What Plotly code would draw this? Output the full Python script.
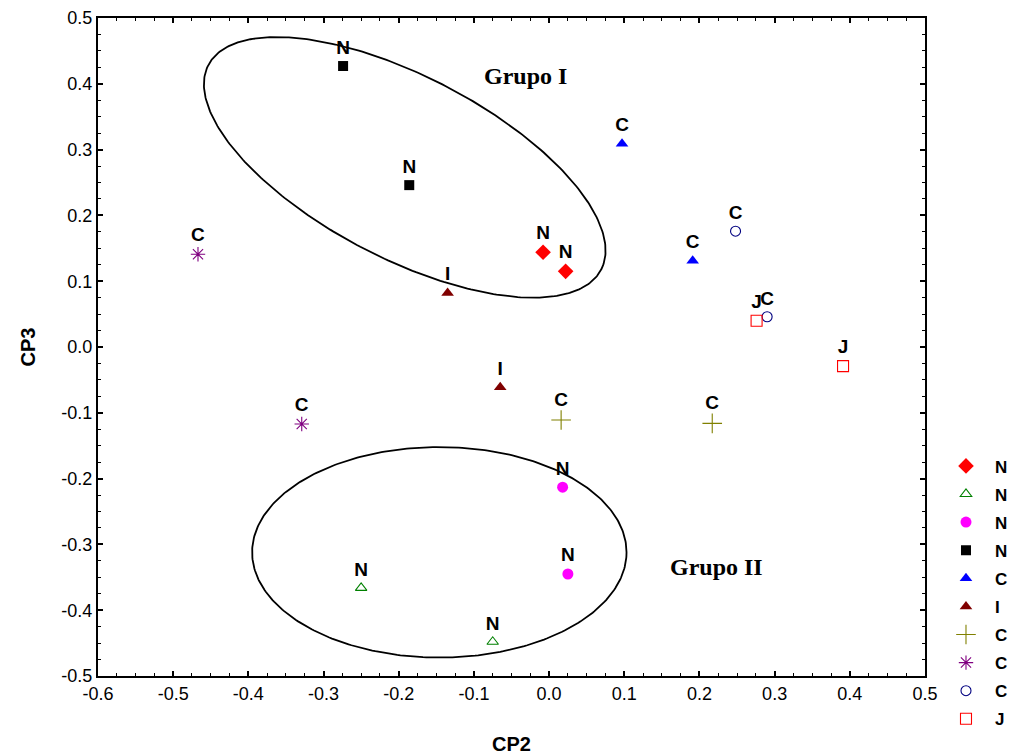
import numpy as np
import plotly.graph_objects as go

# Principal component scores (CP2, CP3) for each sample group
labels = ["N", "N", "N", "N", "C", "I", "C", "C", "C", "J"]
cp2 = [
    [-0.008, 0.022],
    [-0.250, -0.075],
    [0.018, 0.025],
    [-0.274, -0.186],
    [0.097, 0.191],
    [-0.135, -0.065],
    [0.016, 0.217],
    [-0.467, -0.329],
    [0.248, 0.290],
    [0.276, 0.391],
]
cp3 = [
    [0.144, 0.115],
    [-0.366, -0.448],
    [-0.213, -0.345],
    [0.427, 0.246],
    [0.309, 0.131],
    [0.082, -0.061],
    [-0.111, -0.116],
    [0.141, -0.117],
    [0.176, 0.046],
    [0.040, -0.029],
]

# Marker styling per group
symbols = ["diamond", "triangle-up-open", "circle", "square", "triangle-up",
           "triangle-up", "cross-thin-open", "asterisk-open", "circle-open", "square-open"]
colors = ["#FF0000", "#008000", "#FF00FF", "#000000", "#0000FF",
          "#800000", "#808000", "#800080", "#000080", "#FF0000"]
sizes = [12, 10, 11, 10, 11, 11, 14, 12, 10, 11]

# Axis ticks
x_ticks = [-0.6, -0.5, -0.4, -0.3, -0.2, -0.1, 0.0, 0.1, 0.2, 0.3, 0.4, 0.5]
x_ticktext = ["-0.6", "-0.5", "-0.4", "-0.3", "-0.2", "-0.1", "0.0", "0.1", "0.2", "0.3", "0.4", "0.5"]
y_ticks = [-0.5, -0.4, -0.3, -0.2, -0.1, 0.0, 0.1, 0.2, 0.3, 0.4, 0.5]
y_ticktext = ["-0.5", "-0.4", "-0.3", "-0.2", "-0.1", "0.0", "0.1", "0.2", "0.3", "0.4", "0.5"]

# Group ellipses: centre and two conjugate semi-axis vectors (data units)
grupo1 = dict(center=(-0.192, 0.273), u=(0.2615, -0.1549), v=(-0.0546, -0.1234))
grupo2 = dict(center=(-0.146, -0.312), u=(0.249, 0.0), v=(0.0, 0.160))

fig = go.Figure()

for name, xs, ys, sym, col, sz in zip(labels, cp2, cp3, symbols, colors, sizes):
    open_sym = sym.endswith("-open")
    fig.add_trace(go.Scatter(
        x=xs, y=ys, mode="markers+text", name=name,
        text=[name] * len(xs), textposition="top center",
        textfont=dict(family="Liberation Sans, Arial", size=19, color="black", weight="bold"),
        marker=dict(symbol=sym, color=col, size=sz,
                    line=dict(color=col, width=1.1 if open_sym else 0)),
        legendgroup=name + str(len(fig.data)),
    ))

t = np.linspace(0, 2 * np.pi, 361)
for g in (grupo1, grupo2):
    cx, cy = g["center"]
    ux, uy = g["u"]
    vx, vy = g["v"]
    fig.add_trace(go.Scatter(
        x=cx + ux * np.cos(t) + vx * np.sin(t),
        y=cy + uy * np.cos(t) + vy * np.sin(t),
        mode="lines", line=dict(color="black", width=1.8),
        showlegend=False, hoverinfo="skip",
    ))

axis_common = dict(
    showline=True, linecolor="black", linewidth=2, mirror="ticks",
    ticks="inside", ticklen=5, tickwidth=1.5, tickcolor="black",
    showgrid=False, zeroline=False,
    tickfont=dict(family="Liberation Sans, Arial", size=18, color="black"),
    minor=dict(ticks="inside", ticklen=3, tickwidth=1.2, tickcolor="black", dtick=0.025),
)

fig.update_xaxes(range=[-0.6, 0.5], tickvals=x_ticks, ticktext=x_ticktext,
                 title=dict(text="CP2", standoff=34,
                            font=dict(family="Liberation Sans, Arial", size=20, color="black", weight="bold")),
                 **axis_common)
fig.update_yaxes(range=[-0.5, 0.5], tickvals=y_ticks, ticktext=y_ticktext,
                 title=dict(text="CP3", standoff=20,
                            font=dict(family="Liberation Sans, Arial", size=20, color="black", weight="bold")),
                 **axis_common)

group_font = dict(family="Liberation Serif, Times New Roman", size=24, color="black", weight="bold")
fig.add_annotation(x=-0.031, y=0.412, text="Grupo I", showarrow=False, font=group_font)
fig.add_annotation(x=0.223, y=-0.334, text="Grupo II", showarrow=False, font=group_font)

fig.update_layout(
    width=1014, height=756,
    margin=dict(l=98, r=89, t=18, b=80, autoexpand=False),
    plot_bgcolor="white", paper_bgcolor="white",
    showlegend=True,
    legend=dict(x=1.0145, y=0.346, xanchor="left", yanchor="top",
                font=dict(family="Liberation Sans, Arial", size=17, color="black", weight="bold"),
                itemwidth=48, tracegroupgap=3, bgcolor="rgba(0,0,0,0)"),
)

fig.write_html("out.html")
